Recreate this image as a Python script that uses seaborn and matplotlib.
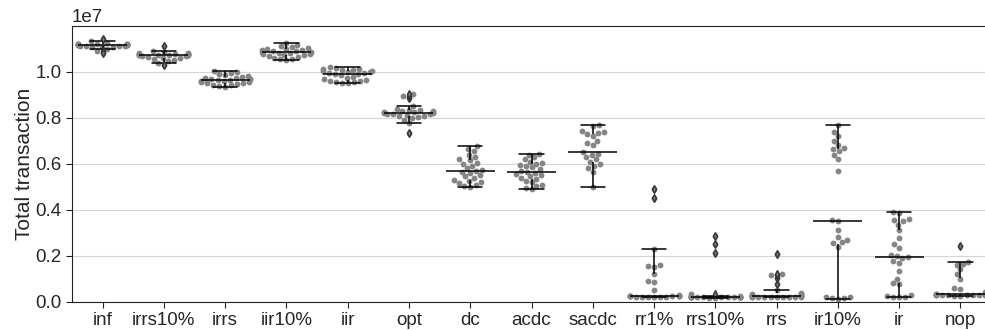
import pandas as pd
from matplotlib import pyplot as plt
import seaborn as sns

# values, in units of 1e7 transactions
SCALE = 1e7
inf = [1.145, 1.133, 1.126, 1.124, 1.123, 1.122, 1.122, 1.121, 1.12, 1.12, 1.119, 1.118, 1.118,
       1.117, 1.116, 1.115, 1.114, 1.113, 1.112, 1.111, 1.11, 1.107, 1.099, 1.09, 1.083]
irrs10 = [1.113, 1.091, 1.085, 1.083, 1.081, 1.08, 1.079, 1.078, 1.077, 1.076, 1.075, 1.075, 1.074,
          1.073, 1.072, 1.07, 1.068, 1.066, 1.063, 1.06, 1.057, 1.052, 1.047, 1.041, 1.029]
irrs = [1.003, 0.998, 0.995, 0.99, 0.985, 0.982, 0.978, 0.975, 0.972, 0.97, 0.969, 0.968, 0.967,
        0.965, 0.962, 0.96, 0.957, 0.955, 0.952, 0.95, 0.947, 0.945, 0.942, 0.938, 0.935]
iir10 = [1.126, 1.118, 1.112, 1.108, 1.105, 1.102, 1.1, 1.097, 1.095, 1.092, 1.09, 1.088, 1.086,
         1.084, 1.082, 1.08, 1.078, 1.075, 1.072, 1.07, 1.066, 1.062, 1.058, 1.055, 1.051]
iir = [1.022, 1.018, 1.015, 1.012, 1.01, 1.008, 1.005, 1.003, 1.0, 0.998, 0.996, 0.994, 0.993,
       0.99, 0.985, 0.98, 0.975, 0.97, 0.966, 0.962, 0.96, 0.957, 0.955, 0.952, 0.95]
opt = [0.733, 0.778, 0.79, 0.80, 0.805, 0.808, 0.81, 0.812, 0.815, 0.817, 0.819, 0.821, 0.823,
       0.824, 0.825, 0.826, 0.828, 0.83, 0.833, 0.836, 0.84, 0.852, 0.885, 0.894, 0.905]
dc = [0.677, 0.665, 0.655, 0.64, 0.63, 0.62, 0.615, 0.605, 0.6, 0.59, 0.58, 0.575, 0.57,
      0.565, 0.56, 0.55, 0.545, 0.54, 0.53, 0.525, 0.52, 0.515, 0.51, 0.505, 0.50]
acdc = [0.645, 0.64, 0.63, 0.62, 0.61, 0.605, 0.6, 0.595, 0.59, 0.585, 0.578, 0.57, 0.565,
        0.56, 0.555, 0.55, 0.545, 0.54, 0.535, 0.525, 0.52, 0.51, 0.505, 0.495, 0.489]
sacdc = [0.77, 0.765, 0.745, 0.74, 0.735, 0.73, 0.72, 0.70, 0.69, 0.68, 0.65, 0.645, 0.64,
         0.63, 0.62, 0.61, 0.60, 0.59, 0.58, 0.565, 0.50]
rr1 = [0.021, 0.023, 0.02, 0.024, 0.022, 0.025, 0.021, 0.026, 0.023, 0.022, 0.024, 0.02, 0.025,
       0.023, 0.027, 0.05, 0.085, 0.09, 0.12, 0.15, 0.155, 0.16, 0.23, 0.452, 0.49]
rrs10 = [0.018, 0.02, 0.019, 0.021, 0.017, 0.02, 0.022, 0.018, 0.019, 0.021, 0.02, 0.016, 0.022,
         0.019, 0.02, 0.018, 0.021, 0.023, 0.019, 0.024, 0.035, 0.212, 0.25, 0.286]
rrs = [0.02, 0.022, 0.019, 0.023, 0.021, 0.018, 0.024, 0.02, 0.022, 0.025, 0.021, 0.019, 0.026,
       0.022, 0.027, 0.028, 0.032, 0.035, 0.038, 0.051, 0.077, 0.105, 0.115, 0.12, 0.207]
ir10 = [0.012, 0.014, 0.016, 0.018, 0.02, 0.24, 0.255, 0.26, 0.27, 0.28, 0.31, 0.35,
        0.355, 0.568, 0.62, 0.64, 0.655, 0.665, 0.67, 0.68, 0.70, 0.72, 0.74, 0.77]
ir = [0.389, 0.385, 0.36, 0.355, 0.35, 0.335, 0.31, 0.277, 0.25, 0.234, 0.205, 0.2, 0.195,
      0.19, 0.175, 0.168, 0.133, 0.099, 0.08, 0.075, 0.03, 0.025, 0.022, 0.02, 0.018]
nop = [0.026, 0.03, 0.028, 0.032, 0.025, 0.029, 0.031, 0.027, 0.033, 0.03, 0.028, 0.035, 0.029,
       0.04, 0.031, 0.055, 0.06, 0.10, 0.12, 0.14, 0.16, 0.165, 0.174, 0.243]

names = ['inf', 'irrs10%', 'irrs', 'iir10%', 'iir', 'opt', 'dc', 'acdc', 'sacdc',
         'rr1%', 'rrs10%', 'rrs', 'ir10%', 'ir', 'nop']
series = [inf, irrs10, irrs, iir10, iir, opt, dc, acdc, sacdc, rr1, rrs10, rrs, ir10, ir, nop]

rows = []
for name, vals in zip(names, series):
    for v in vals:
        rows.append({'policy': name, 'total': v * SCALE})
dataset = pd.DataFrame(rows)

sns.set_style('ticks', {'axes.grid': True, 'grid.color': '#d4d4d4',
                        'axes.edgecolor': '#222222'})
plt.rcParams['font.family'] = ['Liberation Sans', 'DejaVu Sans']

fig, ax = plt.subplots(figsize=(9.85, 3.3), dpi=100)
fig.subplots_adjust(left=0.073, right=1.0, top=0.921, bottom=0.086)

sns.swarmplot(x='policy', y='total', data=dataset, order=names,
              color='#858585', size=4.2, linewidth=0, ax=ax, zorder=1)
sns.boxplot(x='policy', y='total', data=dataset, order=names, ax=ax,
            color='white', linecolor='black', linewidth=1.1,
            flierprops=dict(marker='d', markersize=4, markerfacecolor='#777777',
                            markeredgecolor='#333333', markeredgewidth=1))
for patch in ax.patches:
    patch.set_visible(False)

ax.set_xlim(-0.5, 14.4)
ax.set_ylim(0, 1.2e7)
ax.set_yticks([0, 0.2e7, 0.4e7, 0.6e7, 0.8e7, 1.0e7])
ax.xaxis.grid(False)
ax.spines['right'].set_visible(False)
ax.set_xlabel('')
ax.set_ylabel('Total transaction', fontsize=15, labelpad=1)
ax.tick_params(labelsize=13.5, length=4, color='#222222')
ax.yaxis.get_offset_text().set_fontsize(13.5)

plt.savefig('out.png', dpi=100)
